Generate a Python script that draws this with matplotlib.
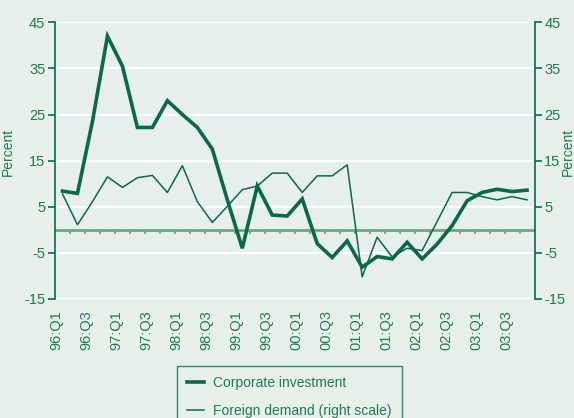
import matplotlib
matplotlib.use("Agg")
import matplotlib.pyplot as plt
import numpy as np

quarters = [f"{y:02d}:Q{q}" for y in [96, 97, 98, 99, 0, 1, 2, 3] for q in range(1, 5)]
tick_labels = ["96:Q1", "96:Q3", "97:Q1", "97:Q3", "98:Q1", "98:Q3", "99:Q1", "99:Q3",
               "00:Q1", "00:Q3", "01:Q1", "01:Q3", "02:Q1", "02:Q3", "03:Q1", "03:Q3"]

corporate_investment = [8.4, 7.9, 23.5, 42.0, 35.5, 22.2, 22.2, 28.0, 25.0, 22.2, 17.5, 6.5,
                        -4.0, 9.5, 3.2, 3.0, 6.7, -3.0, -6.0, -2.4, -8.1, -5.8, -6.3, -2.7,
                        -6.3, -3.1, 0.9, 6.3, 8.1, 8.8, 8.3, 8.6]
foreign_demand = [7.8, 1.1, 6.1, 11.5, 9.2, 11.3, 11.8, 8.1, 13.9, 6.1, 1.6, 5.1,
                  8.7, 9.5, 12.3, 12.3, 8.1, 11.7, 11.7, 14.1, -10.2, -1.6, -5.9, -4.0,
                  -4.5, 1.8, 8.1, 8.1, 7.2, 6.5, 7.2, 6.5]
y_ticks = [-15, -5, 5, 15, 25, 35, 45]

plt.rcParams['font.family'] = ["Liberation Sans", "DejaVu Sans"]
plt.rcParams['axes.unicode_minus'] = False

BG = "#e6efea"
LINE = "#0a6a47"
TEXT = "#1f7a52"
ZERO = "#6fa38c"
FS = 10

fig = plt.figure(figsize=(5.74, 4.18), dpi=100, facecolor=BG)
ax = fig.add_axes([55/574, 1-299/418, (534.5-55)/574, (299-22.3)/418])
ax.set_facecolor(BG)
ax2 = ax.twinx()

x = np.arange(len(quarters))
for yv in y_ticks:
    ax.axhline(yv, color="white", lw=1.5, zorder=1)
ax.axhline(0, color=ZERO, lw=2.0, zorder=2)
ax.vlines(np.arange(len(quarters) - 1) + 0.5, -0.8, 0, color=ZERO, lw=1.3, zorder=2)

l1, = ax.plot(x, corporate_investment, color=LINE, lw=2.6, zorder=4, label="Corporate investment",
              solid_joinstyle="miter")
l2, = ax2.plot(x, foreign_demand, color=LINE, lw=1.1, zorder=3, label="Foreign demand (right scale)")

for a in (ax, ax2):
    a.set_ylim(-15, 45)
    a.set_yticks(y_ticks)
    a.set_xlim(-0.5, len(quarters) - 0.5)
    for s in a.spines.values():
        s.set_visible(False)
    a.tick_params(axis="y", colors=LINE, labelcolor=TEXT, labelsize=FS + 0.5, length=5, width=1.2, pad=2)

ax.spines["left"].set_visible(True)
ax.spines["left"].set_color(LINE)
ax.spines["left"].set_linewidth(1.2)
ax2.spines["right"].set_visible(True)
ax2.spines["right"].set_color(LINE)
ax2.spines["right"].set_linewidth(1.2)

ax.set_xticks(np.arange(len(tick_labels)) * 2 - 0.4)
ax.set_xticklabels(tick_labels, rotation=90, color=TEXT, fontsize=FS + 0.5)
ax.tick_params(axis="x", length=0, pad=8)

ax.set_ylabel("Percent", color=TEXT, fontsize=FS)
ax2.set_ylabel("Percent", color=TEXT, fontsize=FS)
ax.yaxis.set_label_coords(-0.083, 0.53)
ax2.yaxis.set_label_coords(1.054, 0.53)

leg = fig.legend(handles=[l1, l2], loc="upper left", bbox_to_anchor=(176.7/574, 1-365.7/418),
                 frameon=True, fancybox=False, facecolor=BG, edgecolor=LINE, fontsize=FS,
                 handlelength=1.25, handletextpad=0.6, borderpad=0.75, labelspacing=1.0,
                 borderaxespad=0)
leg.get_frame().set_linewidth(1.0)
for t in leg.get_texts():
    t.set_color(TEXT)

fig.savefig("out.png", dpi=100, facecolor=BG)
